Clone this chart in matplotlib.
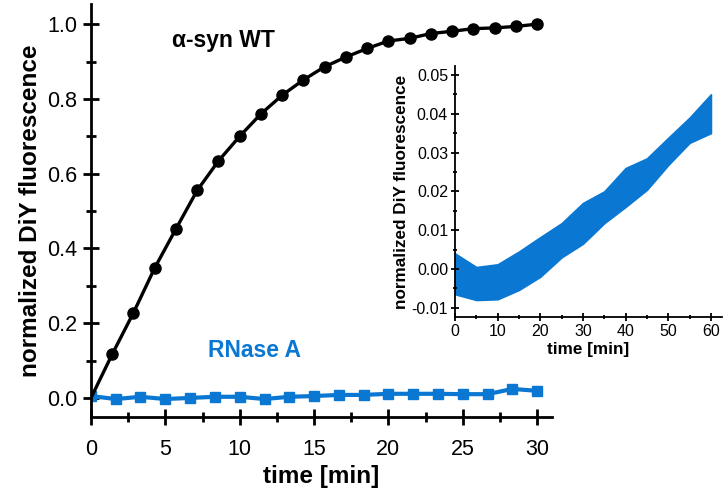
import matplotlib
matplotlib.use("Agg")
import matplotlib.pyplot as plt
from matplotlib.ticker import MultipleLocator

plt.rcParams["font.family"] = ["Liberation Sans", "DejaVu Sans"]

# alpha-synuclein WT kinetics (black circles)
syn_time = [0.0, 1.43, 2.86, 4.29, 5.71, 7.14, 8.57, 10.0, 11.43, 12.86, 14.29,
            15.71, 17.14, 18.57, 20.0, 21.43, 22.86, 24.29, 25.71, 27.14, 28.57, 30.0]
syn_signal = [0.0, 0.117, 0.228, 0.348, 0.452, 0.555, 0.634, 0.700, 0.760, 0.810, 0.851,
              0.886, 0.912, 0.935, 0.955, 0.962, 0.975, 0.981, 0.988, 0.990, 0.994, 1.0]

# RNase A control (blue squares)
rnase_time = [0.0, 1.67, 3.33, 5.0, 6.67, 8.33, 10.0, 11.67, 13.33, 15.0,
              16.67, 18.33, 20.0, 21.67, 23.33, 25.0, 26.67, 28.33, 30.0]
rnase_signal = [0.005, -0.003, 0.003, -0.003, 0.0, 0.003, 0.003, -0.003, 0.003, 0.005,
                0.008, 0.008, 0.011, 0.011, 0.011, 0.010, 0.010, 0.024, 0.019]

# inset: RNase A over 60 min, noise band read as upper/lower envelope
inset_time = [0, 5, 10, 15, 20, 25, 30, 35, 40, 45, 50, 55, 60]
inset_upper = [0.0040, 0.0005, 0.0012, 0.0045, 0.0082, 0.0118, 0.0170, 0.0200,
               0.0260, 0.0285, 0.0338, 0.0390, 0.0450]
inset_lower = [-0.0065, -0.0080, -0.0078, -0.0054, -0.0020, 0.0030, 0.0065, 0.0118,
               0.0160, 0.0204, 0.0268, 0.0325, 0.0350]

blue = "#0a78d2"

fig = plt.figure(figsize=(7.26, 4.98), dpi=100)
ax = fig.add_axes([0.1253, 0.1627, 0.635, 0.8293])

ax.plot(syn_time, syn_signal, color="black", lw=2.4, marker="o", markersize=8,
        markevery=list(range(1, len(syn_time))), zorder=3)
ax.plot(rnase_time, rnase_signal, color=blue, lw=3, marker="s", markersize=7, zorder=2)

ax.set_xlim(0, 31)
ax.set_ylim(-0.051, 1.054)
ax.xaxis.set_major_locator(MultipleLocator(5))
ax.xaxis.set_minor_locator(MultipleLocator(2.5))
ax.yaxis.set_major_locator(MultipleLocator(0.2))
ax.yaxis.set_minor_locator(MultipleLocator(0.1))
ax.spines["top"].set_visible(False)
ax.spines["right"].set_visible(False)
for s in ("left", "bottom"):
    ax.spines[s].set_linewidth(2)
ax.tick_params(which="major", direction="inout", length=11.5, width=2, labelsize=15.5)
ax.tick_params(which="minor", direction="inout", length=6.5, width=2)
ax.tick_params(axis="x", which="major", pad=10)
ax.tick_params(axis="y", which="major", pad=4)
ax.set_xlabel("time [min]", fontsize=17.5, fontweight="bold", labelpad=4)
ax.set_ylabel("normalized DiY fluorescence", fontsize=17.5, fontweight="bold", labelpad=4)

ax.text(5.44, 0.955, "\u03b1-syn WT", fontsize=16.5, fontweight="bold", va="center")
ax.text(7.86, 0.128, "RNase A", fontsize=16.5, fontweight="bold", color=blue, va="center")

# inset
ins = fig.add_axes([0.6267, 0.3635, 0.3678, 0.504])
ins.fill_between(inset_time, inset_lower, inset_upper, color=blue, lw=1.2, edgecolor=blue)
ins.set_xlim(0, 62.6)
ins.set_ylim(-0.01237, 0.0523)
ins.xaxis.set_major_locator(MultipleLocator(10))
ins.xaxis.set_minor_locator(MultipleLocator(5))
ins.yaxis.set_major_locator(MultipleLocator(0.01))
ins.yaxis.set_minor_locator(MultipleLocator(0.005))
ins.yaxis.set_major_formatter(plt.FuncFormatter(lambda v, p: f"{v:.2f}"))
ins.spines["top"].set_visible(False)
ins.spines["right"].set_visible(False)
for s in ("left", "bottom"):
    ins.spines[s].set_linewidth(1.3)
ins.tick_params(which="major", direction="inout", length=6, width=1.3, labelsize=11.5, pad=2)
ins.tick_params(which="minor", direction="inout", length=3.5, width=1.3)
ins.set_xlabel("time [min]", fontsize=12.3, fontweight="bold", labelpad=2)
ins.set_ylabel("normalized DiY fluorescence", fontsize=12.3, fontweight="bold", labelpad=2)

fig.savefig("out.png", dpi=100)
